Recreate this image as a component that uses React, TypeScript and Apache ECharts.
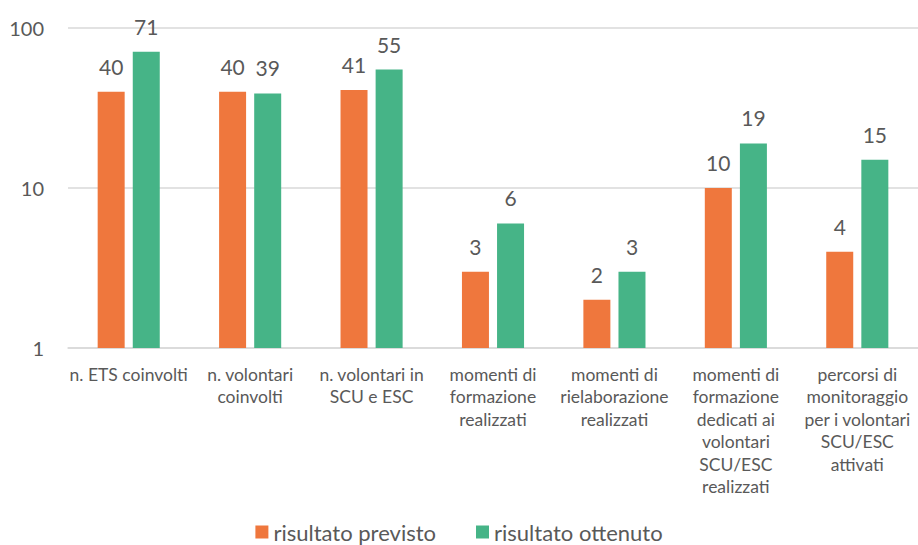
import React, { useEffect, useRef } from "react";
import * as echarts from "echarts";

const categories = [
  "n. ETS coinvolti",
  "n. volontari\ncoinvolti",
  "n. volontari in\nSCU e ESC",
  "momenti di\nformazione\nrealizzati",
  "momenti di\nrielaborazione\nrealizzati",
  "momenti di\nformazione\ndedicati ai\nvolontari\nSCU/ESC\nrealizzati",
  "percorsi di\nmonitoraggio\nper i volontari\nSCU/ESC\nattivati",
];
const previsto = [40, 40, 41, 3, 2, 10, 4];
const ottenuto = [71, 39, 55, 6, 3, 19, 15];
const seriesNames = ["risultato previsto", "risultato ottenuto"];

const FONT = "Lato, sans-serif";
const TXT = "#595959";

export default function App() {
  const ref = useRef<HTMLDivElement>(null);
  useEffect(() => {
    if (!ref.current) return;
    const chart = echarts.init(ref.current, undefined, { renderer: "svg" });
    chart.setOption({
      animation: false,
      textStyle: { fontFamily: FONT, color: TXT },
      grid: { left: 68, right: -5, top: 28, bottom: 197, containLabel: false },
      legend: {
        top: 516,
        left: "center",
        itemWidth: 13,
        itemHeight: 13,
        itemGap: 40,
        icon: "rect",
        textStyle: { fontSize: 22, color: TXT, fontFamily: FONT },
        data: seriesNames,
      },
      xAxis: {
        type: "category",
        data: categories,
        axisLine: { show: true, lineStyle: { color: "#D9D9D9", width: 1.5 } },
        axisTick: { show: false },
        axisLabel: {
          interval: 0,
          fontSize: 17.5,
          lineHeight: 22.5,
          color: TXT,
          margin: 15,
          fontFamily: FONT,
        },
      },
      yAxis: {
        type: "log",
        logBase: 10,
        min: 1,
        max: 100,
        axisLine: { show: false },
        axisTick: { show: false },
        axisLabel: { fontSize: 20, color: TXT, margin: 24, fontFamily: FONT },
        splitLine: { lineStyle: { color: "#D9D9D9", width: 1.5 } },
      },
      series: [
        {
          name: seriesNames[0],
          type: "bar",
          data: previsto,
          barWidth: 27,
          barGap: "30%",
          itemStyle: { color: "#EF773D" },
          label: { show: true, position: "top", distance: 15, fontSize: 21, color: TXT, fontFamily: FONT },
        },
        {
          name: seriesNames[1],
          type: "bar",
          data: ottenuto,
          barWidth: 27,
          itemStyle: { color: "#46B487" },
          label: { show: true, position: "top", distance: 15, fontSize: 21, color: TXT, fontFamily: FONT },
        },
      ],
    });
    return () => chart.dispose();
  }, []);
  return <div ref={ref} style={{ width: 918, height: 545, position: "absolute", left: 0, top: 0 }} />;
}
